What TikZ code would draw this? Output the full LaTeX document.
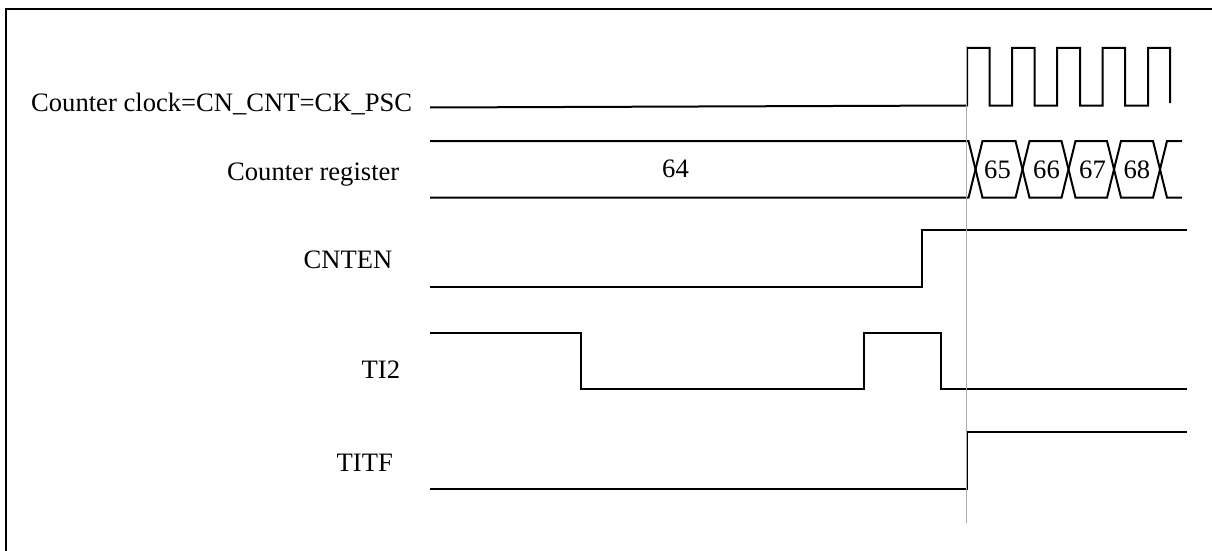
\documentclass[tikz,border=0pt]{standalone}
\usepackage{fontspec}
\setmainfont{Liberation Serif}
\begin{document}
\begin{tikzpicture}[x=1pt,y=-1pt,
  wave/.style={line width=2pt, line join=miter, line cap=butt},
  frame/.style={line width=2.2pt},
  marker/.style={line width=1.6pt, draw={rgb,255:red,170;green,170;blue,170}},
  lbl/.style={inner sep=0pt, anchor=base west, font=\fontsize{26.6}{30}\selectfont}]
\useasboundingbox (0,0) rectangle (1212,551);
% frame (top and left edges)
\draw[frame] (6,551) -- (6,9) -- (1212,9);
% labels
\node[lbl] (lclk) at (31,111.5) {Counter clock=CN\_CNT=CK\_PSC};
\node[lbl] (lreg) at (227,180) {Counter register};
\node[lbl] (lcnten) at (303.5,268.3) {CNTEN};
\node[lbl] (lti2) at (361.5,378.3) {TI2};
\node[lbl] (ltitf) at (336.5,471.7) {TITF};
% counter clock
\draw[wave] (430,107.5) -- (967,105.5) -- (967,48) -- (989.5,48) -- (989.5,105.5)
  -- (1012,105.5) -- (1012,48) -- (1034.7,48) -- (1034.7,105.5)
  -- (1057,105.5) -- (1057,48) -- (1080,48) -- (1080,105.5)
  -- (1102.7,105.5) -- (1102.7,48) -- (1125,48) -- (1125,105.5)
  -- (1148,105.5) -- (1148,48) -- (1170,48) -- (1170,103);
% counter register
\draw[wave] (430,141) -- (968.5,141) -- (982.5,197.7) -- (1015.5,197.7) -- (1029.5,141)
  -- (1061.5,141) -- (1075.5,197.7) -- (1107,197.7) -- (1121,141) -- (1153,141)
  -- (1167,197.7) -- (1182,197.7);
\draw[wave] (430,197.7) -- (968.5,197.7) -- (982.5,141) -- (1015.5,141) -- (1029.5,197.7)
  -- (1061.5,197.7) -- (1075.5,141) -- (1107,141) -- (1121,197.7) -- (1153,197.7)
  -- (1167,141) -- (1182,141);
\node[lbl] (v64) at (662,177) {64};
\node[lbl] (v65) at (984,178.3) {65};
\node[lbl] (v66) at (1033,178.3) {66};
\node[lbl] (v67) at (1079,178.3) {67};
\node[lbl] (v68) at (1123.3,178.3) {68};
% CNTEN
\draw[wave] (430,286.5) -- (921.5,286.5) -- (921.5,230) -- (1187,230);
% TI2
\draw[wave] (429.5,332.5) -- (581,332.5) -- (581,388.7) -- (864.3,388.7) -- (864.3,332.5)
  -- (940.7,332.5) -- (940.7,388.7) -- (1187,388.7);
% TITF
\draw[wave] (430,488.7) -- (967.3,488.7) -- (967.3,432) -- (1187,432);
% marker line
\draw[marker] (966.3,46) -- (966.3,523);
\end{tikzpicture}
\end{document}
